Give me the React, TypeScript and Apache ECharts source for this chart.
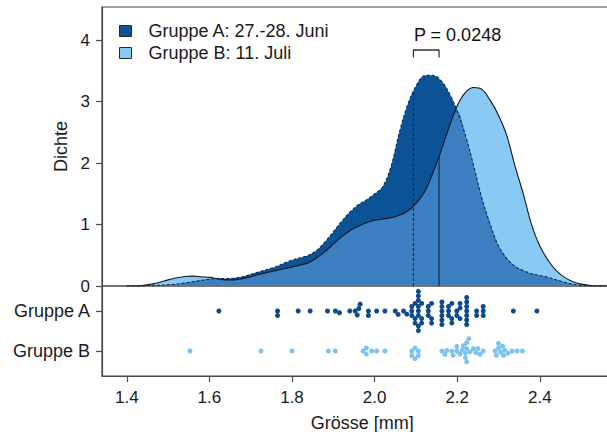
import React, { useEffect, useRef } from 'react';
import * as echarts from 'echarts';

// ---- data ----
const xGrid = [
  1.40, 1.42, 1.44, 1.46, 1.48, 1.50, 1.52, 1.54, 1.56, 1.58,
  1.60, 1.62, 1.64, 1.66, 1.68, 1.70, 1.72, 1.74, 1.76, 1.78,
  1.80, 1.82, 1.84, 1.86, 1.88, 1.90, 1.92, 1.94, 1.96, 1.98,
  2.00, 2.02, 2.04, 2.06, 2.08, 2.10, 2.12, 2.14, 2.16, 2.18,
  2.20, 2.22, 2.24, 2.26, 2.28, 2.30, 2.32, 2.34, 2.36, 2.38,
  2.40, 2.42, 2.44, 2.46, 2.48, 2.50, 2.52, 2.54, 2.56,
];
const densityA = [
  0, 0, 0.005, 0.01, 0.015, 0.02, 0.03, 0.05, 0.07, 0.09,
  0.11, 0.12, 0.12, 0.13, 0.15, 0.19, 0.23, 0.27, 0.31, 0.37,
  0.42, 0.46, 0.5, 0.58, 0.72, 0.88, 1.05, 1.2, 1.32, 1.4,
  1.5, 1.62, 1.95, 2.5, 2.95, 3.25, 3.42, 3.43, 3.35, 3.15,
  2.85, 2.45, 1.95, 1.42, 1.0, 0.65, 0.45, 0.32, 0.25, 0.2,
  0.17, 0.14, 0.1, 0.06, 0.03, 0.01, 0, 0, 0,
];
const densityB = [
  0, 0, 0.01, 0.03, 0.06, 0.1, 0.13, 0.155, 0.16, 0.15,
  0.14, 0.12, 0.1, 0.1, 0.12, 0.15, 0.19, 0.22, 0.25, 0.28,
  0.31, 0.34, 0.38, 0.46, 0.56, 0.68, 0.8, 0.9, 0.97, 1.03,
  1.07, 1.09, 1.11, 1.15, 1.22, 1.34, 1.52, 1.82, 2.18, 2.58,
  2.93, 3.15, 3.23, 3.2, 3.02, 2.78, 2.45, 1.95, 1.5, 1.0,
  0.65, 0.42, 0.25, 0.14, 0.07, 0.03, 0.01, 0, 0,
];
const groupA = [
  1.623, 1.765, 1.765, 1.815, 1.844, 1.886, 1.905, 1.915, 1.94,
  1.953, 1.958, 1.962, 1.965, 1.985, 1.985, 2.005, 2.025, 2.05, 2.057,
  2.07, 2.078, 2.09, 2.09, 2.09, 2.098, 2.098, 2.098,
  2.106, 2.106, 2.106, 2.106, 2.106, 2.106, 2.106, 2.106,
  2.114, 2.114, 2.114, 2.13, 2.13, 2.13, 2.138, 2.138, 2.138,
  2.163, 2.163, 2.163, 2.163, 2.163, 2.163, 2.179, 2.179, 2.179,
  2.187, 2.187, 2.187, 2.199, 2.199, 2.207, 2.207, 2.207,
  2.223, 2.223, 2.223, 2.223, 2.223, 2.223, 2.223,
  2.247, 2.247, 2.263, 2.263, 2.263, 2.336, 2.393,
];
const groupB = [
  1.553, 1.725, 1.8, 1.888, 1.905,
  1.972, 1.98, 1.98, 1.993, 2.005, 2.025,
  2.09, 2.09, 2.098, 2.098, 2.106, 2.106,
  2.163, 2.17, 2.175, 2.187, 2.19, 2.199, 2.199,
  2.207, 2.212, 2.215, 2.22, 2.22, 2.223, 2.223, 2.223, 2.228, 2.231,
  2.239, 2.245, 2.25, 2.255, 2.263,
  2.292, 2.295, 2.3, 2.3, 2.305, 2.31, 2.312, 2.315,
  2.323, 2.333, 2.345, 2.358,
];
const medianA = 2.094;
const medianB = 2.156;
const pLabel = 'P = 0.0248';
const xTicks = [1.4, 1.6, 1.8, 2.0, 2.2, 2.4];
const yTicks = [0, 1, 2, 3, 4];
const legendNames = ['Gruppe A: 27.-28. Juni', 'Gruppe B: 11. Juli'];
const rowLabels = ['Gruppe B', 'Gruppe A']; // rows 1 and 2
const rowValues = [1, 2];

// ---- styles ----
const FONT = 'Liberation Sans, Arial, Helvetica, sans-serif';
const TXT = '#1a1a1a';
const AXC = '#4a4a4a';
const COL_A = '#0c5396';
const COL_B = '#88caf4';
const COL_AB = '#3b7fc1';
const PT_A = '#0d4a8c';
const PT_B = '#7cc3ef';

function interp(xs: number[], ys: number[], v: number) {
  for (let i = 0; i < xs.length - 1; i++) {
    if (v >= xs[i] && v <= xs[i + 1]) {
      const t = (v - xs[i]) / (xs[i + 1] - xs[i]);
      return ys[i] + t * (ys[i + 1] - ys[i]);
    }
  }
  return 0;
}

function swarm(xs: number[], d: number): number[] {
  const order = xs.map((_, i) => i).sort((a, b) => xs[a] - xs[b]);
  const placed: { x: number; y: number }[] = [];
  const out = new Array(xs.length).fill(0);
  for (const i of order) {
    const x = xs[i];
    const near = placed.filter((p) => Math.abs(p.x - x) < d);
    const cands = [0];
    for (const p of near) {
      const dy = Math.sqrt(d * d - (p.x - x) * (p.x - x));
      cands.push(p.y + dy, p.y - dy);
    }
    cands.sort((a, b) => Math.abs(a) - Math.abs(b) || b - a);
    let chosen = 0;
    for (const c of cands) {
      if (near.every((p) => (p.x - x) ** 2 + (p.y - c) ** 2 >= d * d - 1e-6)) {
        chosen = c;
        break;
      }
    }
    placed.push({ x, y: chosen });
    out[i] = chosen;
  }
  return out;
}

export default function App() {
  const ref = useRef<HTMLDivElement>(null);
  useEffect(() => {
    document.body.style.margin = '0';
    const chart = echarts.init(ref.current!, null, { renderer: 'svg' });
    const dA = xGrid.map((x, i) => [x, densityA[i]]);
    const dB = xGrid.map((x, i) => [x, densityB[i]]);
    const dAB = xGrid.map((x, i) => [x, Math.min(densityA[i], densityB[i])]);
    const smooth = 0.35;
    const common = {
      type: 'line',
      xAxisIndex: 0,
      yAxisIndex: 0,
      smooth,
      symbol: 'none',
      silent: true,
    };
    const option: any = {
      animation: false,
      textStyle: { fontFamily: FONT },
      legend: {
        orient: 'vertical',
        left: 119,
        top: 22,
        icon: 'rect',
        itemWidth: 12,
        itemHeight: 11,
        itemGap: 4,
        selectedMode: false,
        padding: 0,
        textStyle: { fontSize: 18, color: TXT, fontFamily: FONT, padding: [0, 0, 0, 12] },
        data: [
          { name: legendNames[0], itemStyle: { color: COL_A, borderColor: '#2a2a2a', borderWidth: 1 } },
          { name: legendNames[1], itemStyle: { color: COL_B, borderColor: '#2a2a2a', borderWidth: 1 } },
        ],
      },
      grid: [
        { left: 102, top: 7, width: 520.4, height: 279, show: true, borderColor: AXC, borderWidth: 1.2, outerBoundsMode: 'none', containLabel: false },
        { left: 102, top: 286, width: 520.4, height: 90, show: true, borderColor: AXC, borderWidth: 1.2, outerBoundsMode: 'none', containLabel: false },
      ],
      xAxis: [
        { gridIndex: 0, type: 'value', min: 1.34, max: 2.6, show: false },
        {
          gridIndex: 1,
          type: 'value',
          min: 1.34,
          max: 2.6,
          axisLine: { show: true, lineStyle: { color: AXC, width: 1.2 } },
          axisTick: { show: true, customValues: xTicks, length: 6, lineStyle: { color: AXC, width: 1.2 } },
          axisLabel: {
            customValues: xTicks,
            formatter: (v: number) => v.toFixed(1),
            fontSize: 17,
            color: TXT,
            margin: 13,
            fontFamily: FONT,
          },
          splitLine: { show: false },
          name: 'Grösse [mm]',
          nameLocation: 'middle',
          nameGap: 38,
          nameTextStyle: { fontSize: 18, color: TXT, fontFamily: FONT },
        },
      ],
      yAxis: [
        {
          gridIndex: 0,
          type: 'value',
          min: 0,
          max: 4.54,
          axisLine: { show: true, lineStyle: { color: AXC, width: 1.2 } },
          axisTick: { show: true, customValues: yTicks, length: 6, lineStyle: { color: AXC, width: 1.2 } },
          axisLabel: { customValues: yTicks, fontSize: 17, color: TXT, margin: 12, fontFamily: FONT },
          splitLine: { show: false },
          name: 'Dichte',
          nameLocation: 'middle',
          nameGap: 32,
          nameRotate: 90,
          nameTextStyle: { fontSize: 18, color: TXT, fontFamily: FONT },
        },
        {
          gridIndex: 1,
          type: 'value',
          min: 0.375,
          max: 2.625,
          axisLine: { show: true, lineStyle: { color: AXC, width: 1.2 } },
          axisTick: { show: true, customValues: rowValues, length: 6, lineStyle: { color: AXC, width: 1.2 } },
          axisLabel: {
            customValues: rowValues,
            formatter: (v: number) => rowLabels[Math.round(v) - 1] || '',
            fontSize: 18,
            color: TXT,
            margin: 12,
            fontFamily: FONT,
          },
          splitLine: { show: false },
        },
      ],
      series: [
        { ...common, name: legendNames[1], data: dB, z: 1, lineStyle: { width: 0 }, itemStyle: { color: COL_B }, areaStyle: { color: COL_B, opacity: 1 } },
        { ...common, name: legendNames[0], data: dA, z: 2, lineStyle: { width: 0 }, itemStyle: { color: COL_A }, areaStyle: { color: COL_A, opacity: 1 } },
        { ...common, name: 'overlap', data: dAB, z: 3, lineStyle: { width: 0 }, itemStyle: { color: COL_AB }, areaStyle: { color: COL_AB, opacity: 1 } },
        { ...common, name: 'outlineA', data: dA, z: 4, lineStyle: { width: 1.1, color: '#0a2a55', type: [3, 2] } },
        { ...common, name: 'outlineB', data: dB, z: 5, lineStyle: { width: 1.1, color: '#151520' } },
        {
          ...common, smooth: false, name: 'medA', z: 6,
          data: [[medianA, 0], [medianA, interp(xGrid, densityA, medianA)]],
          lineStyle: { width: 1.1, color: '#0a2a55', type: [3, 2] },
        },
        {
          ...common, smooth: false, name: 'medB', z: 6,
          data: [[medianB, 0], [medianB, interp(xGrid, densityB, medianB)]],
          lineStyle: { width: 1.2, color: '#1b2a44' },
        },
        {
          ...common, smooth: false, name: 'bracket', z: 6,
          data: [[medianA, 3.72], [medianA, 3.84], [medianB, 3.84], [medianB, 3.72]],
          lineStyle: { width: 1.3, color: '#333' },
        },
        {
          type: 'scatter', xAxisIndex: 0, yAxisIndex: 0, name: 'plabel', silent: true,
          symbolSize: 1, itemStyle: { color: 'rgba(0,0,0,0)', opacity: 1 },
          data: [[medianA, 4.08]],
          label: { show: true, position: 'right', distance: 0, formatter: pLabel, fontSize: 18, color: '#111', opacity: 1, fontFamily: FONT },
          z: 7,
        },
        {
          id: 'ptsA', type: 'scatter', xAxisIndex: 1, yAxisIndex: 1, silent: true, symbolSize: 5,
          itemStyle: { color: PT_A, opacity: 1 }, data: groupA.map((v) => [v, 2]),
        },
        {
          id: 'ptsB', type: 'scatter', xAxisIndex: 1, yAxisIndex: 1, silent: true, symbolSize: 5,
          itemStyle: { color: PT_B, opacity: 1 }, data: groupB.map((v) => [v, 1]),
        },
      ],
    };
    chart.setOption(option);

    const toPx = (x: number, y: number) => chart.convertToPixel({ xAxisIndex: 1, yAxisIndex: 1 }, [x, y]) as number[];
    const unit = toPx(2, 1)[1] - toPx(2, 2)[1];
    const place = (vals: number[], row: number) => {
      const xs = vals.map((v) => toPx(v, row)[0]);
      const off = swarm(xs, 4.5);
      return vals.map((v, i) => [v, row - off[i] / unit]);
    };
    chart.setOption({
      series: [
        { id: 'ptsA', data: place(groupA, 2) },
        { id: 'ptsB', data: place(groupB, 1) },
      ],
    });
    return () => chart.dispose();
  }, []);
  return <div ref={ref} style={{ width: 607, height: 432 }} />;
}
